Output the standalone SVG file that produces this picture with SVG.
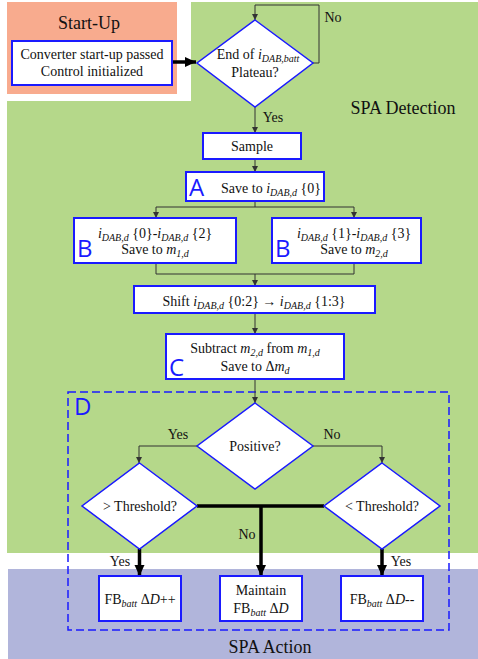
<svg xmlns="http://www.w3.org/2000/svg" width="478" height="659" viewBox="0 0 478 659">
<defs>
<style>
.box{fill:#fff;stroke:#1a1aff;stroke-width:2}
.dia{fill:#fff;stroke:#1a1aff;stroke-width:1.5}
.t{font-family:"Liberation Serif","Times New Roman",serif;font-size:14px;fill:#111;text-anchor:middle}
.big{font-family:"Liberation Serif","Times New Roman",serif;font-size:18px;fill:#111;text-anchor:middle}
.lab{font-family:"Open Sans","Liberation Sans",sans-serif;font-size:24px;fill:#1a1aff}
.i{font-style:italic}
.s{font-size:10px;font-style:italic}
.thin{fill:none;stroke:#333;stroke-width:1}
.thick{fill:none;stroke:#000;stroke-width:3.5}
</style>
<marker id="ah" markerUnits="userSpaceOnUse" markerWidth="8" markerHeight="8" refX="6" refY="3" orient="auto">
<path d="M0,0 L6,3 L0,6 Z" fill="#333"/>
</marker>
<marker id="ahb" markerUnits="userSpaceOnUse" markerWidth="14" markerHeight="14" refX="11" refY="5" orient="auto">
<path d="M0,0 L11,5 L0,10 Z" fill="#000"/>
</marker>
</defs>
<rect width="478" height="659" fill="#fff"/>
<!-- regions -->
<g id="region-startup">
<rect x="7" y="2" width="170" height="92" fill="#f8ab8e"/>
<text class="big" x="89" y="29">Start-Up</text>
</g>
<g id="region-detection">
<path d="M191,2 H478 V553 H7 V101 H191 Z" fill="#b5d88a"/>
<text class="big" x="403" y="114">SPA Detection</text>
</g>
<g id="region-action">
<rect x="8" y="569" width="470" height="90" fill="#b1b5db"/>
<text class="big" x="270" y="653">SPA Action</text>
</g>
<!-- dashed D -->
<g id="group-D">
<rect x="68" y="392" width="381" height="238" fill="none" stroke="#1a1aff" stroke-width="1.5" stroke-dasharray="8,4"/>
<text class="lab" x="74" y="415">D</text>
</g>
<!-- connectors -->
<g id="connectors">
<path class="thick" d="M172,62 H196" marker-end="url(#ahb)"/>
<path class="thin" d="M313,63 H319 V5 H255 V20" marker-end="url(#ah)"/>
<path class="thin" d="M255,107 V133" marker-end="url(#ah)"/>
<path class="thin" d="M255,159 V172" marker-end="url(#ah)"/>
<path class="thin" d="M255,201 V207"/>
<path class="thin" d="M156,207 H354"/>
<path class="thin" d="M156,207 V218" marker-end="url(#ah)"/>
<path class="thin" d="M354,207 V218" marker-end="url(#ah)"/>
<path class="thin" d="M156,263 V274 H354 V263"/>
<path class="thin" d="M255,274 V286" marker-end="url(#ah)"/>
<path class="thin" d="M255,313 V334" marker-end="url(#ah)"/>
<path class="thin" d="M255,379 V403" marker-end="url(#ah)"/>
<path class="thin" d="M197,446 H139 V463" marker-end="url(#ah)"/>
<path class="thin" d="M313,446 H382 V463" marker-end="url(#ah)"/>
<path class="thick" d="M197,506 H324"/>
<path class="thick" d="M261,506 V576" marker-end="url(#ahb)"/>
<path class="thick" d="M139.5,549 V576" marker-end="url(#ahb)"/>
<path class="thick" d="M382,549 V576" marker-end="url(#ahb)"/>
<text class="t" x="333" y="22">No</text>
<text class="t" x="273" y="122">Yes</text>
<text class="t" x="178" y="439">Yes</text>
<text class="t" x="332" y="439">No</text>
<text class="t" x="247" y="539">No</text>
<text class="t" x="120" y="566">Yes</text>
<text class="t" x="401" y="566">Yes</text>
</g>
<!-- nodes -->
<g id="node-startup">
<rect class="box" x="12" y="41" width="160" height="44"/>
<text class="t" x="92" y="59">Converter start-up passed</text>
<text class="t" x="92" y="76">Control initialized</text>
</g>
<g id="node-plateau">
<polygon class="dia" points="255,20 313,63 255,107 197,63"/>
<text class="t" x="258" y="59">End of <tspan class="i">i</tspan><tspan class="s" dy="3">DAB,batt</tspan></text>
<text class="t" x="255" y="77">Plateau?</text>
</g>
<g id="node-sample">
<rect class="box" x="203" y="133" width="98" height="26"/>
<text class="t" x="252" y="151">Sample</text>
</g>
<g id="node-A">
<rect class="box" x="186" y="172" width="138" height="29"/>
<text class="lab" x="189" y="196">A</text>
<text class="t" x="271" y="193">Save to <tspan class="i">i</tspan><tspan class="s" dy="3">DAB,d</tspan><tspan dy="-3"> {0}</tspan></text>
</g>
<g id="node-B1">
<rect class="box" x="74" y="218" width="162" height="45"/>
<text class="lab" x="77" y="257">B</text>
<text class="t" x="155" y="238"><tspan class="i">i</tspan><tspan class="s" dy="3">DAB,d</tspan><tspan dy="-3"> {0}-</tspan><tspan class="i">i</tspan><tspan class="s" dy="3">DAB,d</tspan><tspan dy="-3"> {2}</tspan></text>
<text class="t" x="155" y="254">Save to <tspan class="i">m</tspan><tspan class="s" dy="3">1,d</tspan></text>
</g>
<g id="node-B2">
<rect class="box" x="272" y="218" width="149" height="45"/>
<text class="lab" x="275" y="257">B</text>
<text class="t" x="354" y="238"><tspan class="i">i</tspan><tspan class="s" dy="3">DAB,d</tspan><tspan dy="-3"> {1}-</tspan><tspan class="i">i</tspan><tspan class="s" dy="3">DAB,d</tspan><tspan dy="-3"> {3}</tspan></text>
<text class="t" x="354" y="254">Save to <tspan class="i">m</tspan><tspan class="s" dy="3">2,d</tspan></text>
</g>
<g id="node-shift">
<rect class="box" x="134" y="286" width="241" height="27"/>
<text class="t" x="254" y="306">Shift <tspan class="i">i</tspan><tspan class="s" dy="3">DAB,d</tspan><tspan dy="-3"> {0:2} → </tspan><tspan class="i">i</tspan><tspan class="s" dy="3">DAB,d</tspan><tspan dy="-3"> {1:3}</tspan></text>
</g>
<g id="node-C">
<rect class="box" x="166" y="334" width="178" height="45"/>
<text class="lab" x="169" y="376">C</text>
<text class="t" x="255" y="353">Subtract <tspan class="i">m</tspan><tspan class="s" dy="3">2,d</tspan><tspan dy="-3"> from </tspan><tspan class="i">m</tspan><tspan class="s" dy="3">1,d</tspan></text>
<text class="t" x="255" y="371">Save to Δ<tspan class="i">m</tspan><tspan class="s" dy="3">d</tspan></text>
</g>
<g id="node-positive">
<polygon class="dia" points="255,403 313,446 255,489 197,446"/>
<text class="t" x="255" y="451">Positive?</text>
</g>
<g id="node-gt">
<polygon class="dia" points="139.5,463 197,506 139.5,549 82,506"/>
<text class="t" x="140" y="511">&gt; Threshold?</text>
</g>
<g id="node-lt">
<polygon class="dia" points="382,463 440,506 382,549 324,506"/>
<text class="t" x="382" y="511">&lt; Threshold?</text>
</g>
<g id="node-inc">
<rect class="box" x="99" y="576" width="82" height="45"/>
<text class="t" x="140" y="604">FB<tspan class="s" dy="3">batt</tspan><tspan dy="-3"> Δ</tspan><tspan class="i">D</tspan>++</text>
</g>
<g id="node-maintain">
<rect class="box" x="220" y="576" width="82" height="45"/>
<text class="t" x="261" y="595">Maintain</text>
<text class="t" x="261" y="613">FB<tspan class="s" dy="3">batt</tspan><tspan dy="-3"> Δ</tspan><tspan class="i">D</tspan></text>
</g>
<g id="node-dec">
<rect class="box" x="341" y="576" width="82" height="45"/>
<text class="t" x="382" y="604">FB<tspan class="s" dy="3">batt</tspan><tspan dy="-3"> Δ</tspan><tspan class="i">D</tspan>--</text>
</g>
</svg>
